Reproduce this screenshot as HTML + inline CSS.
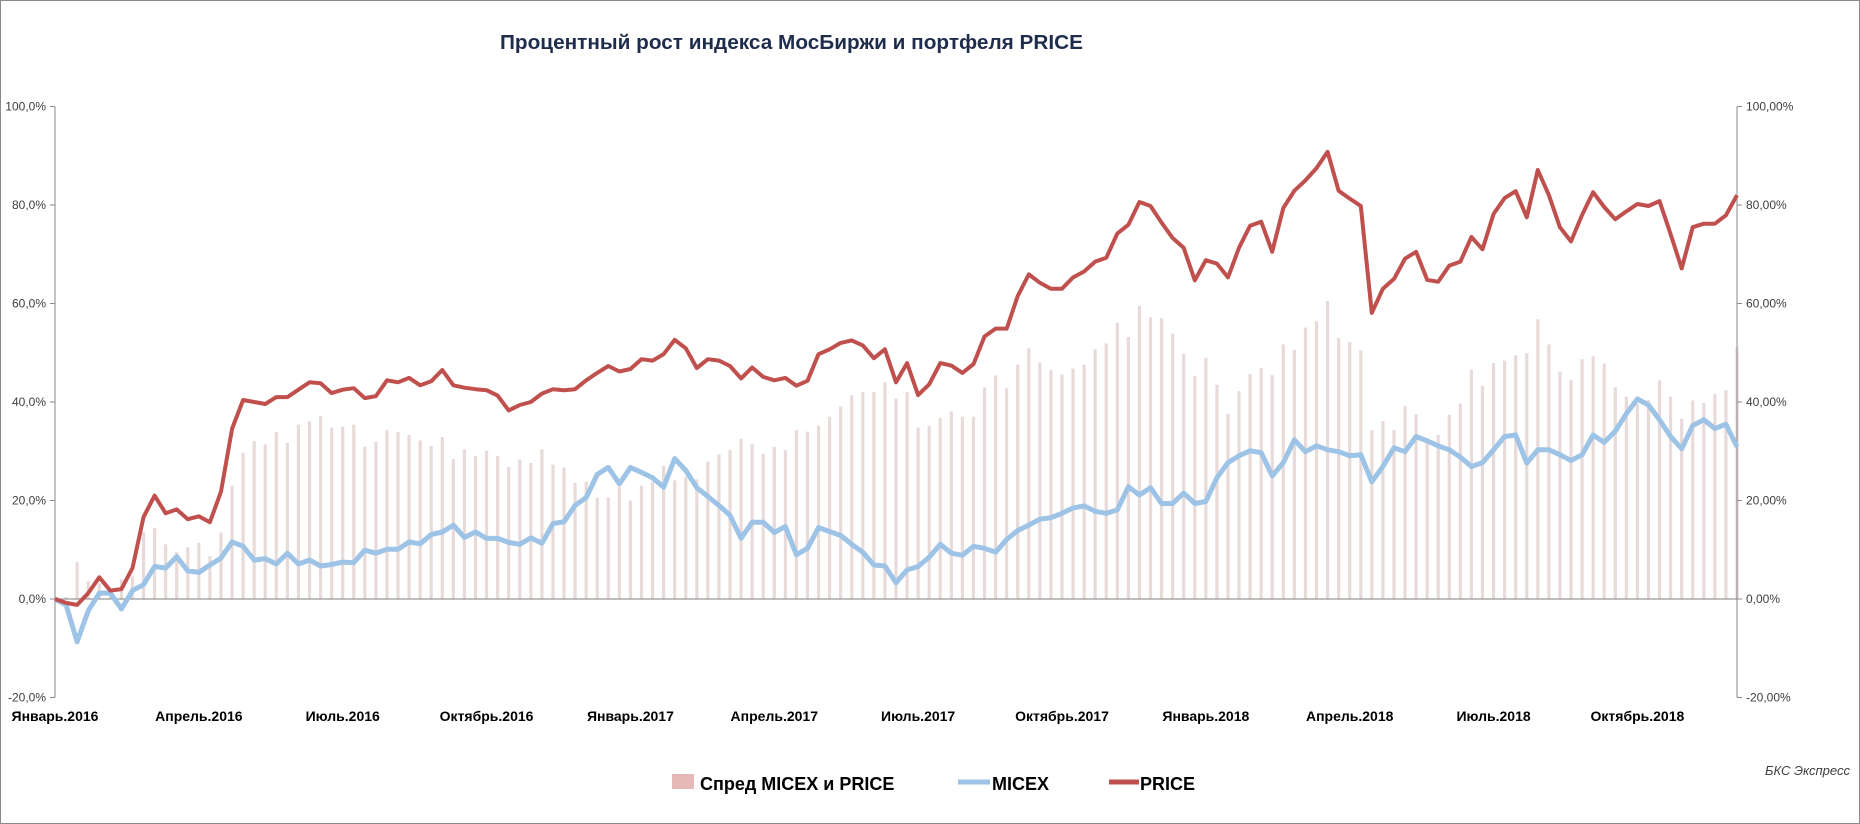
<!DOCTYPE html>
<html><head><meta charset="utf-8"><style>
html,body{margin:0;padding:0;background:#fff}
svg{display:block}
</style></head><body>
<svg id="chart" width="1860" height="824" viewBox="0 0 1860 824" xmlns="http://www.w3.org/2000/svg" font-family="'Liberation Sans', Arial, sans-serif">
<rect x="0.5" y="0.5" width="1859" height="823" fill="#fff" stroke="#8a8a8a" stroke-width="1"/>
<text x="500" y="49" font-size="20" font-weight="bold" fill="#1f2d4d" textLength="583" lengthAdjust="spacingAndGlyphs">Процентный рост индекса МосБиржи и портфеля PRICE</text>
<g id="bars"></g>
<g id="axes"></g>
<g id="lines"></g>
<g>
  <rect x="672" y="774" width="22" height="15" fill="#e6b8b7"/>
  <text x="700" y="790" font-size="18" font-weight="bold" fill="#000">Спред MICEX и PRICE</text>
  <line x1="958" y1="782" x2="990" y2="782" stroke="#9dc3e6" stroke-width="5"/>
  <text x="992" y="790" font-size="18" font-weight="bold" fill="#000">MICEX</text>
  <line x1="1109" y1="782" x2="1139" y2="782" stroke="#c0504d" stroke-width="5"/>
  <text x="1140" y="790" font-size="18" font-weight="bold" fill="#000">PRICE</text>
</g>
<text x="1850" y="775" font-size="13" font-style="italic" fill="#404040" text-anchor="end">БКС Экспресс</text>
</svg>
<script>
const priceValues = [0,-0.8,-1.2,1.2,4.4,1.7,2.0,6.3,16.6,21.0,17.4,18.2,16.2,16.8,15.6,21.8,34.6,40.4,40.0,39.6,41.0,41.0,42.5,44.0,43.8,41.8,42.5,42.8,40.8,41.2,44.4,44.0,44.9,43.4,44.2,46.5,43.4,42.9,42.6,42.4,41.3,38.3,39.4,40.0,41.7,42.6,42.4,42.6,44.4,45.9,47.3,46.2,46.7,48.7,48.4,49.7,52.6,50.9,46.9,48.7,48.4,47.3,44.8,47.0,45.1,44.4,44.9,43.3,44.3,49.7,50.7,52.0,52.5,51.5,48.9,50.7,44.0,47.9,41.4,43.6,47.9,47.4,45.9,47.7,53.3,54.9,54.9,61.5,65.9,64.2,63.0,63.0,65.3,66.5,68.5,69.3,74.2,76.0,80.6,79.8,76.4,73.3,71.3,64.7,68.8,68.1,65.3,71.3,75.8,76.6,70.5,79.4,82.9,85.0,87.5,90.8,82.9,81.3,79.8,58.1,63.0,65.0,69.1,70.5,64.8,64.4,67.7,68.5,73.5,71.0,78.2,81.4,82.8,77.5,87.1,82.0,75.5,72.6,78.0,82.6,79.6,77.1,78.7,80.2,79.8,80.8,74.1,67.1,75.5,76.2,76.2,77.9,82.0];
const micexValues = [0,-1.2,-8.7,-2.4,1.2,1.2,-2.0,1.7,2.9,6.6,6.3,8.6,5.7,5.4,6.9,8.3,11.6,10.7,7.9,8.2,7.1,9.3,7.1,7.9,6.7,7.0,7.5,7.4,9.9,9.3,10.1,10.1,11.6,11.2,13.1,13.6,15.0,12.5,13.6,12.3,12.3,11.5,11.1,12.4,11.3,15.3,15.7,19.0,20.6,25.3,26.7,23.4,26.7,25.7,24.6,22.7,28.5,26.1,22.6,20.8,19.0,17.0,12.3,15.6,15.6,13.5,14.7,9.0,10.3,14.5,13.7,12.9,11.1,9.5,6.9,6.7,3.3,5.9,6.6,8.5,11.1,9.3,8.9,10.7,10.3,9.5,12.1,13.9,15.0,16.2,16.5,17.4,18.5,18.9,17.8,17.4,18.1,22.8,21.1,22.6,19.4,19.4,21.5,19.4,19.8,24.6,27.7,29.1,30.1,29.7,25.0,27.7,32.3,29.9,31.1,30.3,29.9,29.1,29.3,23.8,26.9,30.7,29.9,33.0,32.1,31.1,30.3,28.8,26.9,27.7,30.3,33.0,33.3,27.6,30.3,30.3,29.3,28.1,29.3,33.3,31.8,34.1,37.6,40.6,39.4,36.4,33.0,30.5,35.2,36.4,34.6,35.5,30.9];
const leftTickLabels = ["100,0%","80,0%","60,0%","40,0%","20,0%","0,0%","-20,0%"];
const rightTickLabels = ["100,00%","80,00%","60,00%","40,00%","20,00%","0,00%","-20,00%"];
const tickValues = [100,80,60,40,20,0,-20];
const monthLabels = ["Январь.2016","Апрель.2016","Июль.2016","Октябрь.2016","Январь.2017","Апрель.2017","Июль.2017","Октябрь.2017","Январь.2018","Апрель.2018","Июль.2018","Октябрь.2018"];
const monthIndex = [0,13,26,39,52,65,78,91,104,117,130,143];

const NS = "http://www.w3.org/2000/svg";
const X0 = 55, X1 = 1737, Y0 = 599, PX_PER_PCT = 4.925;
const N = priceValues.length;
function xScale(i){ return X0 + i * (X1 - X0) / (N - 1); }
function yScale(v){ return Y0 - v * PX_PER_PCT; }
function mk(tag, attrs, parent){
  const el = document.createElementNS(NS, tag);
  for (const k in attrs) el.setAttribute(k, attrs[k]);
  parent.appendChild(el);
  return el;
}
const bars = document.getElementById('bars');
const axes = document.getElementById('axes');
const lines = document.getElementById('lines');

// spread bars
for (let i = 0; i < N; i++) {
  const s = priceValues[i] - micexValues[i];
  const y = Math.min(yScale(s), Y0), h = Math.abs(yScale(s) - Y0);
  const b = mk('rect', {x: xScale(i) - 1.6, y: y, width: 3.2, height: h, fill: '#e9dada'}, bars);
  
  
}

// axes
const la = mk('line', {x1: X0, y1: yScale(100), x2: X0, y2: yScale(-20), stroke: '#8a8a8a', 'stroke-width': 1}, axes);


const ra = mk('line', {x1: X1, y1: yScale(100), x2: X1, y2: yScale(-20), stroke: '#8a8a8a', 'stroke-width': 1}, axes);


const zl = mk('line', {x1: X0, y1: Y0, x2: X1, y2: Y0, stroke: '#7f7f7f', 'stroke-width': 1}, axes);


tickValues.forEach((v, k) => {
  const y = yScale(v);
  mk('line', {x1: X0 - 5, y1: y, x2: X0, y2: y, stroke: '#8a8a8a'}, axes);
  mk('line', {x1: X1, y1: y, x2: X1 + 5, y2: y, stroke: '#8a8a8a'}, axes);
  const lt = mk('text', {x: X0 - 9, y: y + 4, 'font-size': 12, fill: '#404040', 'text-anchor': 'end'}, axes);
  lt.textContent = leftTickLabels[k];
  
  
  const rt = mk('text', {x: X1 + 9, y: y + 4, 'font-size': 12, fill: '#404040'}, axes);
  rt.textContent = rightTickLabels[k];
  
  
});
monthLabels.forEach((m, k) => {
  let x = xScale(monthIndex[k]);
  const t = mk('text', {x: x, y: 721, 'font-size': 14, 'font-weight': 'bold', fill: '#000', 'text-anchor': 'middle'}, axes);
  t.textContent = m;
  
  
});

// lines
function path(vals){ return vals.map((v, i) => (i ? 'L' : 'M') + xScale(i).toFixed(1) + ' ' + yScale(v).toFixed(1)).join(''); }
const ml = mk('path', {d: path(micexValues), fill: 'none', stroke: '#9dc3e6', 'stroke-width': 5, 'stroke-linejoin': 'round'}, lines);


const pl = mk('path', {d: path(priceValues), fill: 'none', stroke: '#c0504d', 'stroke-width': 4, 'stroke-linejoin': 'round'}, lines);


</script>
</body></html>
